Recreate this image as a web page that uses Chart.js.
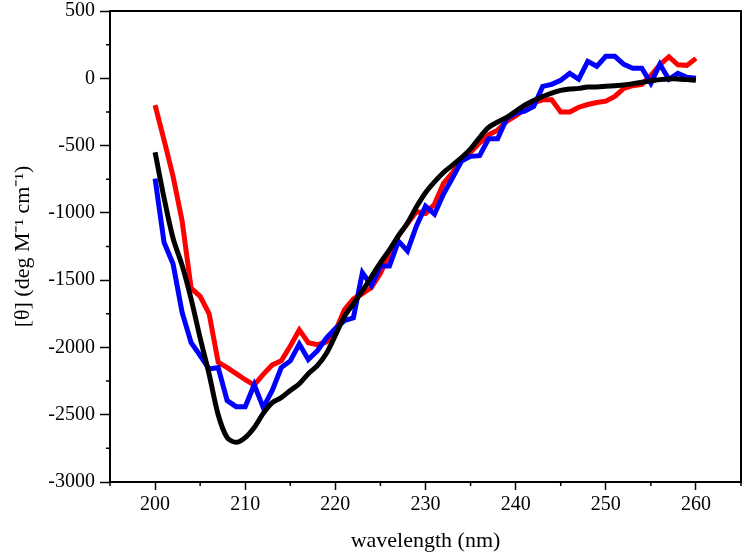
<!DOCTYPE html>
<html>
<head>
<meta charset="utf-8">
<script src="https://cdn.jsdelivr.net/npm/chart.js@4"></script>
<style>
  html, body { margin: 0; padding: 0; background: #fff; }
  #wrap { width: 743px; height: 558px; }
</style>
</head>
<body>
<div id="wrap"><canvas id="cd"></canvas></div>
<script>
const wavelengths = [];
for (let w = 200; w <= 260; w++) wavelengths.push(w);

const redVals = [-200, -460, -730, -1060, -1560, -1620, -1750, -2110, -2150, -2195,
  -2240, -2280, -2200, -2130, -2100, -1990, -1870, -1965, -1980, -1960,
  -1880, -1720, -1640, -1600, -1555, -1450, -1300, -1170, -1080, -990,
  -1005, -935, -780, -700, -610, -550, -480, -420, -385, -320,
  -280, -230, -180, -160, -160, -250, -250, -215, -195, -180,
  -170, -135, -75, -55, -45, 20, 100, 160, 100, 96, 148];

const blueVals = [-745, -1220, -1380, -1740, -1965, -2060, -2160, -2150, -2395, -2440,
  -2440, -2277, -2447, -2320, -2150, -2100, -1975, -2090, -2025, -1930,
  -1860, -1800, -1780, -1445, -1540, -1395, -1395, -1210, -1283, -1097,
  -950, -1010, -860, -740, -615, -580, -575, -450, -450, -300,
  -260, -245, -210, -60, -45, -15, 37, -7, 126, 89,
  163, 163, 104, 74, 74, -37, 104, -7, 37, 7, 0];

const blackVals = [-550, -890, -1190, -1390, -1640, -1930, -2200, -2500, -2670, -2705,
  -2670, -2595, -2490, -2410, -2373, -2320, -2270, -2195, -2135, -2045,
  -1910, -1770, -1675, -1580, -1475, -1370, -1275, -1170, -1075, -955,
  -850, -770, -700, -645, -590, -525, -440, -365, -325, -290,
  -245, -200, -165, -135, -110, -90, -80, -75, -65, -65,
  -60, -55, -50, -40, -30, -20, -10, -5, -5, -10, -15];

const xMin = 195, xMax = 265;
const yMin = -3000, yMax = 500;

const font = "'Liberation Serif', 'Times New Roman', serif";

function pts(vals) {
  return wavelengths.map((w, i) => ({ x: w, y: vals[i] }));
}

// frame around plot + minor ticks
const framePlugin = {
  id: 'frame',
  afterDraw(chart) {
    const c = chart.ctx, a = chart.chartArea;
    const xs = chart.scales.x, ys = chart.scales.y;
    c.save();
    c.strokeStyle = '#000';
    c.lineWidth = 2;
    c.strokeRect(a.left, a.top, a.right - a.left, a.bottom - a.top);
    c.lineWidth = 1.5;
    c.beginPath();
    for (let v = xMin; v <= xMax; v += 5) {
      if (v % 10 === 0) continue;
      const px = xs.getPixelForValue(v);
      c.moveTo(px, a.bottom);
      c.lineTo(px, a.bottom + 4);
    }
    for (let v = yMin + 250; v < yMax; v += 500) {
      const py = ys.getPixelForValue(v);
      c.moveTo(a.left, py);
      c.lineTo(a.left - 4, py);
    }
    c.stroke();
    c.restore();
  }
};

new Chart(document.getElementById('cd'), {
  type: 'line',
  data: {
    datasets: [
      { label: 'red', data: pts(redVals), borderColor: '#ff0000', borderWidth: 5, pointRadius: 0, tension: 0, order: 3 },
      { label: 'blue', data: pts(blueVals), borderColor: '#0000ff', borderWidth: 5, pointRadius: 0, tension: 0, order: 2 },
      { label: 'black', data: pts(blackVals), borderColor: '#000000', borderWidth: 5, pointRadius: 0, tension: 0.3, order: 1 }
    ]
  },
  options: {
    responsive: true,
    maintainAspectRatio: false,
    animation: false,
    layout: { padding: { top: 11, right: 2, left: 0, bottom: 0 } },
    plugins: { legend: { display: false }, tooltip: { enabled: false } },
    scales: {
      x: {
        type: 'linear',
        min: xMin, max: xMax,
        afterBuildTicks(s) {
          s.ticks = [200, 210, 220, 230, 240, 250, 260].map(v => ({ value: v }));
        },
        afterFit(s) { s.height = 76; s.paddingLeft = 0; s.paddingRight = 0; },
        grid: { drawOnChartArea: false, drawTicks: true, tickLength: 8, tickColor: '#000', tickWidth: 1.5 },
        border: { color: '#000', width: 2 },
        ticks: { color: '#000', font: { family: font, size: 20 }, padding: 3, maxRotation: 0,
          callback: v => String(v) },
        title: { display: true, text: 'wavelength (nm)', color: '#000', font: { family: font, size: 22 }, padding: { top: 11 } }
      },
      y: {
        type: 'linear',
        min: yMin, max: yMax,
        afterBuildTicks(s) {
          const t = [];
          for (let v = yMin; v <= yMax; v += 500) t.push({ value: v });
          s.ticks = t;
        },
        afterFit(s) { s.width = 110; s.paddingTop = 0; s.paddingBottom = 0; },
        grid: { drawOnChartArea: false, drawTicks: true, tickLength: 10, tickColor: '#000', tickWidth: 1.5 },
        border: { color: '#000', width: 2 },
        ticks: { color: '#000', font: { family: font, size: 20 }, padding: 5,
          callback: v => String(v) },
        title: { display: true, text: '[θ] (deg M⁻¹ cm⁻¹)', color: '#000', font: { family: font, size: 22 }, padding: { top: 10, bottom: 2 } }
      }
    }
  },
  plugins: [framePlugin]
});
</script>
</body>
</html>
